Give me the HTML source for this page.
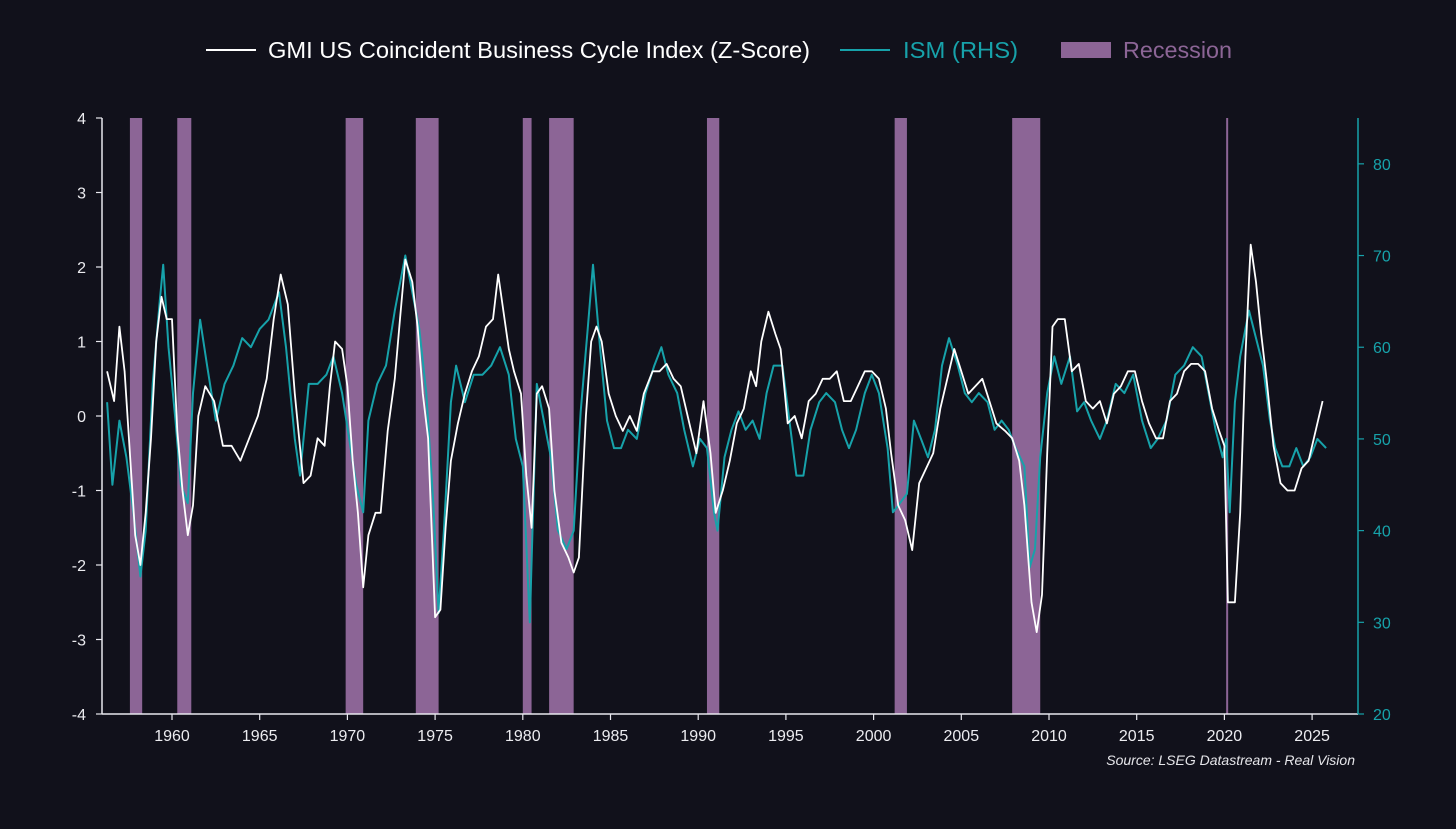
<!DOCTYPE html>
<html><head><meta charset="utf-8"><style>
html,body{margin:0;padding:0;background:#11111b;}
body{width:1456px;height:829px;overflow:hidden;font-family:"Liberation Sans",sans-serif;}
</style></head><body>
<svg id="chart" width="1456" height="829" viewBox="0 0 1456 829" xmlns="http://www.w3.org/2000/svg" style="display:block;background:#11111b">
  <g font-size="23.5" font-family="Liberation Sans, sans-serif">
    <g>
      <line x1="206" y1="50" x2="256" y2="50" stroke="#ffffff" stroke-width="2"/>
      <text x="268" y="58" fill="#ffffff" textLength="542" lengthAdjust="spacingAndGlyphs">GMI US Coincident Business Cycle Index (Z-Score)</text>
    </g>
    <g>
      <line x1="840" y1="50" x2="890" y2="50" stroke="#17a2aa" stroke-width="2"/>
      <text x="903" y="58" fill="#17a2aa" textLength="115" lengthAdjust="spacingAndGlyphs">ISM (RHS)</text>
    </g>
    <g>
      <rect x="1061" y="42" width="50" height="16" fill="#8c6596"/>
      <text x="1123" y="58" fill="#8c6596" textLength="109" lengthAdjust="spacingAndGlyphs">Recession</text>
    </g>
  </g>
  <g id="bands"></g>
  <g id="axes"></g>
  <g id="series"></g>
  <text x="1355" y="765" text-anchor="end" font-size="14" font-style="italic" fill="#e6e6ea">Source: LSEG Datastream - Real Vision</text>
</svg>
<script>
const recessionStarts=[1957.6,1960.3,1969.9,1973.9,1980.0,1981.5,1990.5,2001.2,2007.9,2020.1];
const recessionEnds=[1958.3,1961.1,1970.9,1975.2,1980.5,1982.9,1991.2,2001.9,2009.5,2020.2];
const leftTicks=[-4,-3,-2,-1,0,1,2,3,4];
const rightTicks=[20,30,40,50,60,70,80];
const yearTicks=[1960,1965,1970,1975,1980,1985,1990,1995,2000,2005,2010,2015,2020,2025];
const gmiYears=[1956.3,1956.7,1957.0,1957.3,1957.6,1957.9,1958.2,1958.5,1958.8,1959.1,1959.4,1959.7,1960.0,1960.3,1960.6,1960.9,1961.2,1961.5,1961.9,1962.4,1962.9,1963.4,1963.9,1964.4,1964.9,1965.4,1965.8,1966.2,1966.6,1967.0,1967.5,1967.9,1968.3,1968.7,1969.0,1969.3,1969.7,1970.0,1970.3,1970.6,1970.9,1971.2,1971.6,1971.9,1972.3,1972.7,1973.0,1973.3,1973.7,1974.0,1974.3,1974.6,1974.8,1975.0,1975.3,1975.6,1975.9,1976.3,1976.7,1977.1,1977.5,1977.9,1978.3,1978.6,1978.9,1979.2,1979.5,1979.9,1980.2,1980.5,1980.8,1981.1,1981.5,1981.8,1982.2,1982.6,1982.9,1983.2,1983.6,1983.9,1984.2,1984.5,1984.9,1985.3,1985.7,1986.1,1986.5,1986.9,1987.4,1987.8,1988.2,1988.6,1989.0,1989.5,1989.9,1990.3,1990.7,1991.0,1991.4,1991.8,1992.2,1992.6,1993.0,1993.3,1993.6,1994.0,1994.4,1994.7,1995.1,1995.5,1995.9,1996.3,1996.7,1997.1,1997.5,1997.9,1998.3,1998.7,1999.1,1999.5,1999.9,2000.3,2000.7,2001.0,2001.4,2001.8,2002.2,2002.6,2003.0,2003.4,2003.8,2004.2,2004.6,2005.0,2005.4,2005.8,2006.2,2006.6,2007.0,2007.5,2007.9,2008.3,2008.6,2009.0,2009.3,2009.6,2009.9,2010.2,2010.5,2010.9,2011.3,2011.7,2012.1,2012.5,2012.9,2013.3,2013.7,2014.1,2014.5,2014.9,2015.3,2015.7,2016.1,2016.5,2016.9,2017.3,2017.7,2018.1,2018.5,2018.9,2019.3,2019.7,2020.0,2020.2,2020.6,2020.9,2021.2,2021.5,2021.8,2022.1,2022.4,2022.8,2023.2,2023.6,2024.0,2024.4,2024.8,2025.2,2025.6];
const gmiValues=[0.6,0.2,1.2,0.6,-0.5,-1.6,-2.0,-1.3,-0.3,1.0,1.6,1.3,1.3,-0.2,-1.0,-1.6,-1.2,0.0,0.4,0.2,-0.4,-0.4,-0.6,-0.3,0.0,0.5,1.3,1.9,1.5,0.3,-0.9,-0.8,-0.3,-0.4,0.4,1.0,0.9,0.4,-0.6,-1.3,-2.3,-1.6,-1.3,-1.3,-0.2,0.5,1.3,2.1,1.8,1.2,0.3,-0.3,-1.5,-2.7,-2.6,-1.5,-0.6,-0.1,0.3,0.6,0.8,1.2,1.3,1.9,1.4,0.9,0.6,0.3,-0.8,-1.5,0.3,0.4,0.1,-1.0,-1.7,-1.9,-2.1,-1.9,0.0,1.0,1.2,1.0,0.3,0.0,-0.2,0.0,-0.2,0.3,0.6,0.6,0.7,0.5,0.4,-0.1,-0.5,0.2,-0.5,-1.3,-1.0,-0.6,-0.1,0.1,0.6,0.4,1.0,1.4,1.1,0.9,-0.1,0.0,-0.3,0.2,0.3,0.5,0.5,0.6,0.2,0.2,0.4,0.6,0.6,0.5,0.1,-0.5,-1.2,-1.4,-1.8,-0.9,-0.7,-0.5,0.1,0.5,0.9,0.6,0.3,0.4,0.5,0.2,-0.1,-0.2,-0.3,-0.6,-1.2,-2.5,-2.9,-2.4,-0.5,1.2,1.3,1.3,0.6,0.7,0.2,0.1,0.2,-0.1,0.3,0.4,0.6,0.6,0.2,-0.1,-0.3,-0.3,0.2,0.3,0.6,0.7,0.7,0.6,0.1,-0.2,-0.4,-2.5,-2.5,-1.3,0.8,2.3,1.8,1.1,0.5,-0.4,-0.9,-1.0,-1.0,-0.7,-0.6,-0.2,0.2];
const ismYears=[1956.3,1956.6,1957.0,1957.4,1957.8,1958.2,1958.5,1958.9,1959.3,1959.5,1959.8,1960.2,1960.5,1960.9,1961.2,1961.6,1962.0,1962.5,1963.0,1963.5,1964.0,1964.5,1965.0,1965.5,1966.1,1966.5,1967.0,1967.3,1967.8,1968.3,1968.8,1969.2,1969.7,1970.1,1970.5,1970.9,1971.2,1971.7,1972.2,1972.7,1973.3,1973.7,1974.1,1974.5,1974.9,1975.2,1975.5,1975.9,1976.2,1976.7,1977.2,1977.7,1978.2,1978.7,1979.2,1979.6,1980.0,1980.4,1980.8,1981.2,1981.6,1982.0,1982.5,1982.9,1983.3,1983.7,1984.0,1984.4,1984.8,1985.2,1985.6,1986.0,1986.5,1987.0,1987.5,1987.9,1988.3,1988.8,1989.2,1989.7,1990.1,1990.5,1990.9,1991.1,1991.5,1991.9,1992.3,1992.7,1993.1,1993.5,1993.9,1994.3,1994.8,1995.2,1995.6,1996.0,1996.4,1996.9,1997.3,1997.8,1998.2,1998.6,1999.0,1999.5,1999.9,2000.3,2000.8,2001.1,2001.5,2001.9,2002.3,2002.7,2003.1,2003.5,2003.9,2004.3,2004.8,2005.2,2005.6,2006.0,2006.5,2006.9,2007.3,2007.7,2008.1,2008.6,2008.9,2009.2,2009.5,2009.9,2010.3,2010.7,2011.2,2011.6,2012.0,2012.4,2012.9,2013.3,2013.8,2014.3,2014.8,2015.3,2015.8,2016.2,2016.7,2017.2,2017.7,2018.2,2018.7,2019.1,2019.5,2019.9,2020.1,2020.3,2020.6,2020.9,2021.2,2021.4,2021.8,2022.2,2022.6,2022.9,2023.3,2023.7,2024.1,2024.5,2024.9,2025.3,2025.8];
const ismValues=[54,45,52,48,42,35,40,56,65,69,60,52,45,43,55,63,58,52,56,58,61,60,62,63,66,60,50,46,56,56,57,59,55,50,45,42,52,56,58,64,70,66,62,55,43,31,40,54,58,54,57,57,58,60,57,50,47,30,56,52,48,40,38,40,53,62,69,60,52,49,49,51,50,55,58,60,57,55,51,47,50,49,42,40,48,51,53,51,52,50,55,58,58,52,46,46,51,54,55,54,51,49,51,55,57,55,49,42,43,44,52,50,48,51,58,61,58,55,54,55,54,51,52,51,49,47,36,38,48,55,59,56,59,53,54,52,50,52,56,55,57,52,49,50,52,57,58,60,59,55,51,48,50,42,54,59,62,64,61,58,52,49,47,47,49,47,48,50,49];

const L=102,R=1358,T=118,B=714;
const xS=y=>172+(y-1960)*17.54;
const yL=v=>T+(4-v)/8*(B-T);
const yR=v=>B-(v-20)/65*(B-T);
const NS='http://www.w3.org/2000/svg';
function mk(tag,attrs,parent){const e=document.createElementNS(NS,tag);for(const k in attrs)e.setAttribute(k,attrs[k]);parent.appendChild(e);return e;}
const bands=document.getElementById('bands');
recessionStarts.forEach((s,i)=>{
  const r=mk('rect',{x:xS(s),y:T,width:Math.max(2,xS(recessionEnds[i])-xS(s)),height:B-T,fill:'#8c6596'},bands);
  
  
});
const ax=document.getElementById('axes');
let a=mk('line',{x1:L,y1:T,x2:L,y2:B,stroke:'#e8e8ee','stroke-width':1.5},ax);


a=mk('line',{x1:L,y1:B,x2:R,y2:B,stroke:'#e8e8ee','stroke-width':1.5},ax);


a=mk('line',{x1:R,y1:T,x2:R,y2:B,stroke:'#17a2aa','stroke-width':1.5},ax);


leftTicks.forEach(v=>{
  mk('line',{x1:L-6,y1:yL(v),x2:L,y2:yL(v),stroke:'#e8e8ee','stroke-width':1.2},ax);
  const t=mk('text',{x:L-16,y:yL(v)+6,'text-anchor':'end','font-size':16,fill:'#ececf0'},ax);
  t.textContent=v;
  
  
});
rightTicks.forEach(v=>{
  mk('line',{x1:R,y1:yR(v),x2:R+6,y2:yR(v),stroke:'#17a2aa','stroke-width':1.2},ax);
  const t=mk('text',{x:R+15,y:yR(v)+6,'font-size':16,fill:'#17a2aa'},ax);
  t.textContent=v;
  
  
});
yearTicks.forEach(v=>{
  mk('line',{x1:xS(v),y1:B,x2:xS(v),y2:B+6,stroke:'#e8e8ee','stroke-width':1.2},ax);
  const t=mk('text',{x:xS(v),y:B+27,'text-anchor':'middle','font-size':16,fill:'#ececf0'},ax);
  t.textContent=v;
  
  
});
const ser=document.getElementById('series');
const ismPts=ismYears.map((y,i)=>xS(y).toFixed(1)+','+yR(ismValues[i]).toFixed(1)).join(' ');
const p1=mk('polyline',{points:ismPts,fill:'none',stroke:'#17a2aa','stroke-width':2,'stroke-linejoin':'round'},ser);


const gmiPts=gmiYears.map((y,i)=>xS(y).toFixed(1)+','+yL(gmiValues[i]).toFixed(1)).join(' ');
const p2=mk('polyline',{points:gmiPts,fill:'none',stroke:'#ffffff','stroke-width':1.8,'stroke-linejoin':'round'},ser);


</script>
</body></html>
